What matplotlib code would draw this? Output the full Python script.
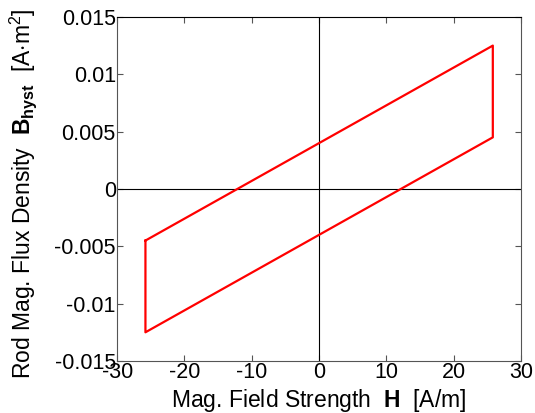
import matplotlib
matplotlib.use("Agg")
import matplotlib.pyplot as plt

plt.rcParams['font.family'] = ['Liberation Sans', 'DejaVu Sans']
plt.rcParams['mathtext.fontset'] = 'custom'
plt.rcParams['mathtext.rm'] = 'Liberation Sans'
plt.rcParams['mathtext.it'] = 'Liberation Sans:italic'
plt.rcParams['mathtext.bf'] = 'Liberation Sans:bold'

# Hysteresis loop corners (H [A/m], B [A·m^2])
H = [-25.8, 25.8, 25.8, -25.8, -25.8]
B = [-0.0045, 0.0125, 0.0045, -0.0125, -0.0045]

xticks = [-30, -20, -10, 0, 10, 20, 30]
yticks = [-0.015, -0.01, -0.005, 0, 0.005, 0.01, 0.015]
yticklabels = ['-0.015', '-0.01', '-0.005', '0', '0.005', '0.01', '0.015']
xticklabels = ['-30', '-20', '-10', '0', '10', '20', '30']

fig = plt.figure(figsize=(5.35, 4.13), dpi=100)
ax = fig.add_axes([0.219, 0.126, 0.755, 0.833])

ax.axhline(0, color='black', lw=0.8)
ax.axvline(0, color='black', lw=0.8)
ax.plot(H, B, color='red', lw=1.6)

ax.set_xlim(-30, 30)
ax.set_ylim(-0.015, 0.015)
ax.set_xticks(xticks)
ax.set_xticklabels(xticklabels)
ax.set_yticks(yticks)
ax.set_yticklabels(yticklabels)
ax.tick_params(direction='in', top=True, right=True, labelsize=15.5,
               length=4, width=0.8, color='#555555', pad=1)
for s in ax.spines.values():
    s.set_color('#555555')
    s.set_linewidth(0.8)
ax.spines['top'].set_color('black')

ax.set_xlabel(r'Mag. Field Strength  $\mathbf{H}$  [A/m]', fontsize=16.5)
ax.set_ylabel(r'Rod Mag. Flux Density  $\mathbf{B_{hyst}}$  [A$\cdot$m$^2$]', fontsize=16.5)
ax.xaxis.set_label_coords(0.5, -0.075)
ax.yaxis.set_label_coords(-0.193, 0.485)

fig.savefig('out.png', dpi=100, facecolor='white')
